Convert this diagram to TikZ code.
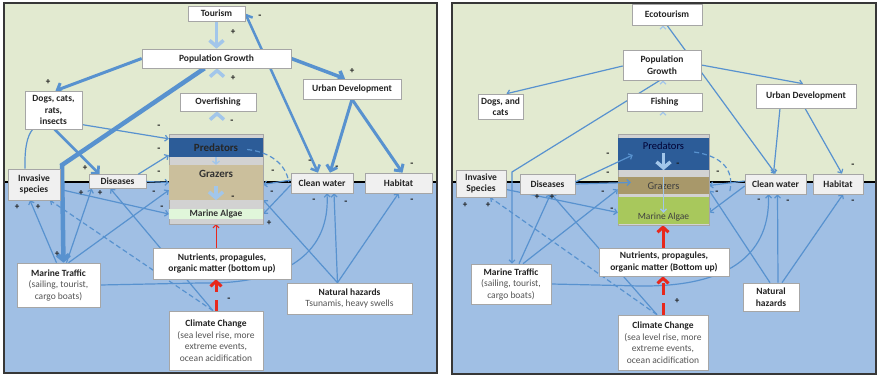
\documentclass[tikz,border=0pt]{standalone}
\usepackage{fontspec}
\setmainfont{Carlito}
\usetikzlibrary{arrows.meta,calc}
\definecolor{skyg}{RGB}{226,234,208}
\definecolor{sea}{RGB}{160,191,228}
\definecolor{arr}{RGB}{88,146,207}
\definecolor{larr}{RGB}{162,198,234}
\definecolor{frm}{RGB}{55,55,55}
\definecolor{predc}{RGB}{44,92,152}
\definecolor{bandc}{RGB}{210,210,210}
\definecolor{tanL}{RGB}{203,191,156}
\definecolor{tanR}{RGB}{168,152,106}
\definecolor{algLc}{RGB}{224,246,218}
\definecolor{algRc}{RGB}{168,200,92}
\definecolor{redA}{RGB}{232,40,28}
\definecolor{txt}{RGB}{35,35,35}
\definecolor{subt}{RGB}{85,85,85}
\pgfdeclarelayer{bg}
\pgfdeclarelayer{edges}
\pgfdeclarelayer{fg}
\pgfsetlayers{bg,edges,main,fg}
\begin{document}
\begin{tikzpicture}[x=1pt,y=-1pt,
  box/.style={draw=gray!70, fill=white, line width=0.6pt, inner sep=0pt, align=center, text=txt, font=\fontsize{9.5}{11.5}\selectfont\bfseries},
  gbox/.style={box, fill=gray!12},
  wh/.style 2 args={minimum width=#1pt, minimum height=#2pt},
  a1/.style={draw=arr, line width=1.2pt, -{Straight Barb[length=3pt,width=6pt]}},
  a3/.style={draw=arr, line width=3pt, -{Straight Barb[length=5pt,width=11pt]}},
  la/.style={draw=larr, line width=3.5pt, -{Straight Barb[length=6pt,width=14pt]}},
  lt/.style={draw=larr, line width=1.3pt, -{Straight Barb[length=3pt,width=6pt]}},
  dsh/.style={draw=arr, line width=1.2pt, dash pattern=on 5pt off 3pt},
  rt/.style={draw=redA, line width=1pt, -{Straight Barb[length=3pt,width=6pt]}},
  rth/.style={draw=redA, line width=3pt, -{Straight Barb[length=5pt,width=11pt]}},
  band/.style={inner sep=0pt, minimum width=#1pt},
  pl/.style={font=\fontsize{9}{9}\selectfont\bfseries, text=black!90, inner sep=0pt},
  mi/.style={font=\fontsize{10}{10}\selectfont\bfseries, text=black!90, inner sep=0pt}
]
\useasboundingbox (0,0) rectangle (878,377);
\newcommand{\sbt}[1]{{\mdseries\color{subt}#1}}
% ---------- panels ----------
\begin{pgfonlayer}{bg}
  \fill[white] (0,0) rectangle (878,377);
  \fill[skyg] (4,3) rectangle (437,182);
  \fill[sea] (4,182) rectangle (437,373);
  \draw[black, line width=1.3pt] (4,182) -- (437,182);
  \draw[frm, line width=1.5pt] (4,3) rectangle (437,373);
  \fill[skyg] (452,3) rectangle (876,182);
  \fill[sea] (452,182) rectangle (876,374);
  \draw[black, line width=1.3pt] (452,182) -- (876,182);
  \draw[frm, line width=1.5pt] (452,3) rectangle (876,374);
\end{pgfonlayer}
% ---------- LEFT nodes ----------
\node[box, wh={57}{15}] (tourL) at (216.5,13.5) {Tourism};
\node[box, wh={149}{19}] (popL) at (216.5,58.5) {Population Growth};
\node[box, wh={76}{18}] (overL) at (218,102) {Overfishing};
\node[box, wh={57}{38}] (dogsL) at (53.5,110) {Dogs, cats,\\rats,\\insects};
\node[box, wh={98}{20}] (urbL) at (352,89) {Urban Development};
\node[gbox, wh={52}{31}] (invL) at (34,184.5) {Invasive\\species};
\node[gbox, wh={57}{14}] (disL) at (117.5,181.5) {Diseases};
\node[gbox, wh={62}{20}] (cwL) at (322,183) {Clean water};
\node[gbox, wh={67}{20}] (habL) at (398.5,183) {Habitat};
\node[box, wh={83}{44}] (mtL) at (58.5,285) {Marine Traffic\\\sbt{(sailing, tourist,}\\\sbt{cargo boats)}};
\node[box, wh={138}{31}] (nutL) at (222,263.5) {Nutrients, propagules,\\organic matter (bottom up)};
\node[box, wh={94}{59}] (ccL) at (216,340.5) {Climate Change\\\sbt{(sea level rise, more}\\\sbt{extreme events,}\\\sbt{ocean acidification}};
\node[box, wh={125}{31}] (nhL) at (349.5,298.5) {Natural hazards\\\sbt{Tsunamis, heavy swells}};
% trophic block left
\node[draw=gray!70, fill=bandc, inner sep=0pt, wh={94}{90}] (tropL) at (216,179) {};
\node[fill=predc, band=94, minimum height=19pt] (predL) at (216,147.5) {};
\node[fill=tanL, band=94, minimum height=35pt] (grazL) at (216,182.5) {};
\node[fill=algLc, band=94, minimum height=10pt] (algL) at (216,214) {};
\node[font=\fontsize{11}{12}\selectfont\bfseries, text=black!85, inner sep=0pt] (predLt) at (216,147.5) {Predators};
\node[font=\fontsize{11}{12}\selectfont\bfseries, text=black!80, inner sep=0pt] (grazLt) at (216,174) {Grazers};
\node[font=\fontsize{9.5}{10}\selectfont\bfseries, text=black!80, inner sep=0pt] (algLt) at (216,214) {Marine Algae};
% ---------- RIGHT nodes ----------
\node[box, wh={70}{21}] (ecoR) at (667,14.5) {Ecotourism};
\node[box, wh={78}{30}] (popR) at (662,65) {Population\\Growth};
\node[box, wh={75}{18}] (fishR) at (664.5,102) {Fishing};
\node[box, wh={45}{25}] (dogsR) at (500.5,106.5) {Dogs, and\\cats};
\node[box, wh={100}{24}] (urbR) at (806,96) {Urban Development};
\node[gbox, wh={50}{27}] (invR) at (481,183.5) {Invasive\\Species};
\node[gbox, wh={55}{20}] (disR) at (547.5,184) {Diseases};
\node[gbox, wh={61}{20}] (cwR) at (775.5,184) {Clean water};
\node[gbox, wh={50}{20}] (habR) at (838,184) {Habitat};
\node[box, wh={80}{40}] (mtR) at (511,284) {Marine Traffic\\\sbt{(sailing, tourist,}\\\sbt{cargo boats)}};
\node[box, wh={130}{28}] (nutR) at (664,262) {Nutrients, propagules,\\organic matter (Bottom up)};
\node[box, wh={90}{55}] (ccR) at (663,342.5) {Climate Change\\\sbt{(sea level rise, more}\\\sbt{extreme events,}\\\sbt{ocean acidification}};
\node[box, wh={56}{28}] (nhR) at (771,297) {Natural\\hazards};
% trophic block right
\node[draw=gray!70, fill=bandc, inner sep=0pt, wh={91}{91}] (tropR) at (663.5,179.5) {};
\node[fill=predc, band=91, minimum height=32pt] (predR) at (663.5,154) {};
\node[fill=tanR, band=91, minimum height=17pt] (grazR) at (663.5,185.5) {};
\node[fill=algRc, band=91, minimum height=27pt] (algR) at (663.5,210.5) {};
\node[font=\fontsize{10.5}{11}\selectfont, text=black!80!blue, inner sep=0pt] (predRt) at (663.5,146) {Predators};
\node[font=\fontsize{10.5}{11}\selectfont, text=black!75, inner sep=0pt] (grazRt) at (663.5,186) {Grazers};
\node[font=\fontsize{9.5}{10}\selectfont, text=black!75, inner sep=0pt] (algRt) at (663.5,217) {Marine Algae};
\coordinate (bendL) at (62,165);
\coordinate (bendR) at (512,172);
% ---------- LEFT connectors ----------
\begin{pgfonlayer}{edges}
  \draw[la] (tourL.south) -- (tourL.south |- popL.north);
  \draw[la] ($(popL.south)+(0.5,0)$) -- ($(popL.south)+(0.5,0)$ |- overL.north);
  \draw[la] ($(overL.south)+(-1,0)$) -- ($(overL.south)+(-1,0)$ |- tropL.north);
  \draw[a3] (popL.west) -- ($(dogsL.north)+(2,0)$);
  \draw[a3, line width=4.5pt, -{Straight Barb[length=5pt,width=12pt]}] ($(popL.south)+(-12,0)$) -- (bendL) -- ($(mtL.north)+(5,0)$);
  \draw[a3, line width=3.5pt] (popL.east) -- ($(urbL.north)+(-7,0)$);
  \draw[a3, line width=2.5pt, {Straight Barb[length=5pt,width=10pt]}-{Straight Barb[length=5pt,width=10pt]}] (tourL.east) -- ($(cwL.north)+(-4,0)$);
  \draw[a3] (urbL.south) -- ($(cwL.north)+(8,0)$);
  \draw[a3] (urbL.south) -- ($(habL.north)+(4,0)$);
  \draw[a3, line width=2.6pt] ($(dogsL.south)+(1,0)$) -- ($(disL.north)+(-18,0)$);
  \draw[a1] ($(invL.north)+(-9,0)$) .. controls (24,128) and (35,120) .. (60,121) -- ($(predL.north west)+(0,1)$);
  \draw[a1] ($(invL.east)+(0,5)$) -- (algL.west);
  \draw[a1] ($(mtL.north)+(8,0)$) -- ($(disL.south west)+(3,0)$);
  \draw[a1] ($(mtL.north)+(10,0)$) -- ($(grazL.south west)+(0,-10)$);
  \draw[a1] ($(mtL.north)+(-2,0)$) -- ($(invL.south)+(-4,0)$);
  \draw[dsh, -{Straight Barb[length=3pt,width=6pt]}] ($(ccL.north)+(-3,0)$) -- ($(invL.south)+(16,0)$);
  \draw[a1] ($(ccL.north)+(-3,0)$) -- ($(disL.south)+(-7,0)$);
  \draw[a1] (mtL.east) -- (200,283) .. controls (290,285) and (330,250) .. ($(cwL.south)+(5,0)$);
  \draw[a1] ($(nhL.north)+(-12,0)$) -- ($(cwL.south)+(12,0)$);
  \draw[a1] ($(nhL.north)+(-12,0)$) -- (habL.south);
  \draw[a1] ($(nhL.north)+(-12,0)$) -- ($(tropL.east)+(0,21)$);
  \draw[a1] ($(cwL.west)+(0,2)$) -- (algL.east);
  \draw[a1] ($(cwL.west)+(0,-3)$) -- ($(grazL.east)+(0,2)$);
  \draw[rt] (ccL.north |- nutL.north) -- (ccL.north |- tropL.south);
  \draw[rth, dash pattern=on 11pt off 8pt] (ccL.north) -- (ccL.north |- nutL.south);
% ---------- RIGHT connectors ----------
  \draw[lt] ($(ecoR.south)+(-4,0)$) -- ($(ecoR.south)+(-4,0)$ |- popR.north);
  \draw[lt] ($(popR.south)+(1,0)$) -- ($(popR.south)+(1,0)$ |- fishR.north);
  \draw[lt] ($(fishR.south)+(-1.5,0)$) -- ($(fishR.south)+(-1.5,0)$ |- tropR.north);
  \draw[a1] ($(popR.west)+(0,1)$) -- ($(dogsR.north)+(6,0)$);
  \draw[a1] ($(popR.south)+(-2,0)$) -- (bendR) -- ($(mtR.north)+(1,0)$);
  \draw[a1] (popR.east) -- ($(urbR.north)+(-3,0)$);
  \draw[a1] (ecoR.south) -- (cwR.north);
  \draw[a1] ($(urbR.south)+(-26,0)$) -- ($(cwR.north)+(-2,0)$);
  \draw[a1] ($(urbR.south)+(-1,0)$) -- ($(habR.north)+(4,0)$);
  \draw[a1] ($(invR.east)+(0,6)$) -- ($(algR.west)+(0,2)$);
  \draw[a1] ($(mtR.north)+(8,0)$) -- ($(disR.south)+(3,0)$);
  \draw[a1] ($(mtR.north)+(12,0)$) -- ($(grazR.west)+(0,4)$);
  \draw[dsh, -{Straight Barb[length=3pt,width=6pt]}] ($(ccR.north)+(-6,0)$) -- ($(invR.south)+(9,0)$);
  \draw[a1] ($(ccR.north)+(-6,0)$) -- ($(disR.south)+(4,0)$);
  \draw[a1] (mtR.east) -- (640,286) .. controls (735,287) and (770,250) .. ($(cwR.south)+(-7,0)$);
  \draw[a1] ($(nhR.north)+(7,0)$) -- ($(cwR.south)+(2,0)$);
  \draw[a1] ($(nhR.north)+(11,0)$) -- ($(habR.south)+(5,0)$);
  \draw[a1] ($(nhR.north)+(-1,0)$) -- ($(tropR.east)+(0,11)$);
  \draw[a1] ($(cwR.west)+(0,2)$) -- ($(algR.east)+(0,2)$);
  \draw[a1] ($(cwR.west)+(0,-3)$) -- (grazR.east);
  \draw[rth] (ccR.north |- nutR.north) -- (ccR.north |- tropR.south);
  \draw[rth, dash pattern=on 12pt off 8pt] (ccR.north) -- (ccR.north |- nutR.south);
\end{pgfonlayer}
% ---------- on top ----------
\begin{pgfonlayer}{fg}
  \draw[larr, line width=1.2pt, -{Straight Barb[length=3pt,width=7pt]}] (predL.south) -- (grazL.north);
  \draw[la] (216,186) -- (grazL.south);
  \draw[a1] ($(disL.north east)+(-8,0)$) -- ($(predL.south west)+(0,-2)$);
  \draw[a1] (disL.east) -- (grazL.west);
  \draw[dsh] ($(predL.east)+(-16,2)$) .. controls (270,152) and (286,164) .. ($(cwL.west)+(-2,-1)$);
  \draw[la] (663.5,153) -- (predR.south);
  \draw[lt] (grazR.north) -- ($(algR.north)+(0,16)$);
  \draw[a1] ($(disR.east)+(0,-2)$) -- ($(predR.west)+(15,1)$);
  \draw[a1] (disR.east) -- ($(grazR.west)+(13,-3)$);
  \draw[dsh] ($(predR.east)+(-15,-2)$) .. controls (720,156) and (735,168) .. ($(cwR.west)+(-15,8)$);
  % signs left
  \foreach \p [count=\i] in {(48,82),(233,32),(233,78),(352,71),(85,168),(17,207),(38,207),(81,193),(100,193),(57,254),(269,223)}
    \node[pl] (lp\i) at \p {+};
  \foreach \p [count=\i] in {(260,17),(232,122),(159,127),(159,150),(159,173),(310,162),(337,168),(412,165),(273,172),(272,193),(233,198),(154,193),(162,208),(314,201),(346,203),(412,201),(229,300)}
    \node[mi] (lm\i) at \p {-};
  % signs right
  \foreach \p [count=\i] in {(465,205),(488,205),(537,197),(552,197),(677,301)}
    \node[pl] (rp\i) at \p {+};
  \foreach \p [count=\i] in {(608,155),(608,174),(603,193),(612,210),(678,165),(718,173),(717,193),(759,201),(788,202),(853,202),(853,166)}
    \node[mi] (rm\i) at \p {-};
\end{pgfonlayer}
\end{tikzpicture}
\end{document}
